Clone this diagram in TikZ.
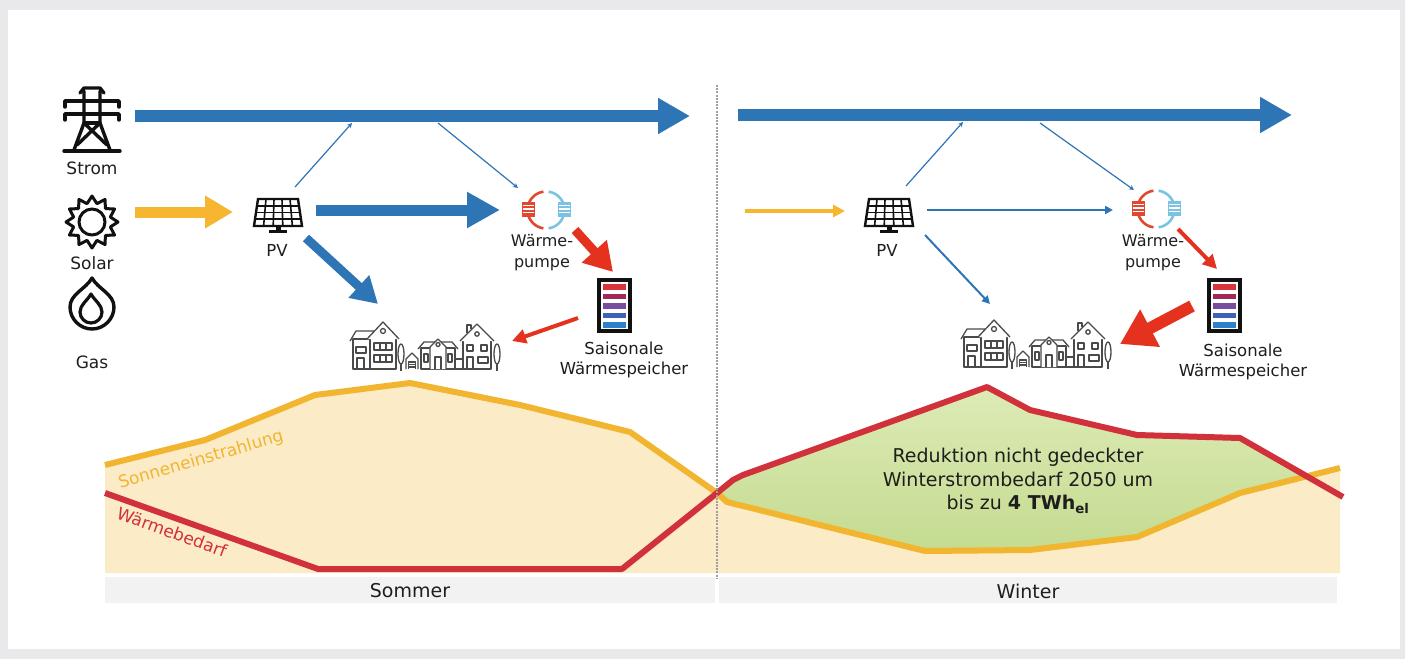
\documentclass[tikz,border=0pt]{standalone}
\usepackage{fontspec}
\setmainfont{DejaVu Sans}
\usetikzlibrary{arrows.meta}
\definecolor{pagebg}{HTML}{E9E9EB}
\definecolor{flowblue}{HTML}{2E75B6}
\definecolor{sunyellow}{HTML}{F6B630}
\definecolor{heatred}{HTML}{E5321E}
\definecolor{curvered}{HTML}{D0313A}
\definecolor{curveyellow}{HTML}{F2B52F}
\definecolor{beige}{HTML}{FBEBC6}
\definecolor{greenlight}{HTML}{DDEBB6}
\definecolor{greendark}{HTML}{C4DB90}
\definecolor{bargrey}{HTML}{F2F2F2}
\definecolor{txt}{HTML}{1E1E1E}
\definecolor{icon}{HTML}{111111}
\definecolor{houseline}{HTML}{4A4A4A}
\definecolor{hpred}{HTML}{E0482F}
\definecolor{hpblue}{HTML}{7CC3E3}
\definecolor{stA}{HTML}{D8343C}
\definecolor{stB}{HTML}{A32858}
\definecolor{stC}{HTML}{7A4C9C}
\definecolor{stD}{HTML}{3E62B8}
\definecolor{stE}{HTML}{2F80CC}

\tikzset{
  lbl/.style={text=txt, inner sep=0pt, font=\fontsize{#1}{20}\selectfont},
  lbl/.default=17,
  flow/.style args={#1/#2/#3/#4}{draw=#1, line width=#2, -{Triangle[length=#3, width=#4]}},
  thinflow/.style={draw=flowblue, line width=1.2pt, -{Stealth[length=5pt, width=5pt]}},
  pics/pvpanel/.style={code={
    \fill[white] (-20,-13) -- (20,-13) -- (24,14) -- (-24,14) -- cycle;
    \foreach \i in {1,...,4} {
      \draw[icon, line width=1.6pt] ({-20+8*\i},-13) -- ({-24+9.6*\i},14);
    }
    \foreach \t in {0.25,0.5,0.75} {
      \draw[icon, line width=1.6pt] ({-20-4*\t},{-13+27*\t}) -- ({20+4*\t},{-13+27*\t});
    }
    \draw[icon, line width=2.4pt, line join=miter] (-20,-13) -- (20,-13) -- (24,14) -- (-24,14) -- cycle;
    \fill[icon] (-2.5,14) rectangle (2.5,18.5);
    \draw[icon, line width=2.5pt] (-9,19.5) -- (9,19.5);
  }},
  pics/heatpump/.style={code={
    \draw[hpred, line width=2.6pt] (98:18.5) arc[start angle=98, end angle=262, radius=18.5];
    \draw[hpblue, line width=2.6pt] (-82:18.5) arc[start angle=-82, end angle=82, radius=18.5];
    \fill[white] (-24,-8) rectangle (-12,7);
    \foreach \yy in {-8,-4.2,-0.4,3.4} {
      \fill[hpred] (-24,\yy) rectangle (-12,\yy+2.6);
    }
    \fill[white] (12,-8) rectangle (24,7);
    \foreach \yy in {-8,-4.2,-0.4,3.4} {
      \fill[hpblue] (12,\yy) rectangle (24,\yy+2.6);
    }
    \draw[hpred, line width=0.8pt] (-24,-8) rectangle (-12,6);
    \draw[hpblue, line width=0.8pt] (12,-8) rectangle (24,6);
  }},
  pics/storage/.style={code={
    \draw[icon, line width=4pt, fill=white] (-15.5,-25.5) rectangle (15.5,25.5);
    \fill[stA] (-11.5,-21.5) rectangle (11.5,-16);
    \fill[stB] (-11.5,-12) rectangle (11.5,-6.5);
    \fill[stC] (-11.5,-2.5) rectangle (11.5,3);
    \fill[stD] (-11.5,7) rectangle (11.5,12.5);
    \fill[stE] (-11.5,16.5) rectangle (11.5,22);
  }},
  pics/houses/.style={code={
    \begin{scope}[draw=houseline, line width=1.3pt, line join=round]
      % tall house on the left
      \draw[fill=white] (3,0) rectangle (20,-30);
      \draw (0,-28) -- (6,-38) -- (24,-38);
      \draw[fill=white] (20,0) rectangle (46,-32);
      \draw[fill=white] (17,-30) -- (33,-47) -- (49,-30);
      \draw (33,-38) circle (2.5);
      \draw (6,-22) rectangle (16,-16);
      \draw (24,-26) rectangle (42,-19);
      \draw (30,-26) -- (30,-19) (36,-26) -- (36,-19);
      \draw (24,-14) rectangle (42,-7);
      \draw (30,-14) -- (30,-7) (36,-14) -- (36,-7);
      \draw (7,0) -- (7,-11) -- (14,-11) -- (14,0);
      % tree
      \draw (51,-15) ellipse (3 and 10);
      \draw (51,-5) -- (51,2);
      % garage
      \draw[fill=white] (56,0) -- (56,-10) -- (62,-16) -- (68,-10) -- (68,0);
      \draw (58.5,0) -- (58.5,-7) -- (65.5,-7) -- (65.5,0);
      \draw (58.5,-4.5) -- (65.5,-4.5) (58.5,-2) -- (65.5,-2);
      % bungalow in the middle
      \draw[fill=white] (71,0) rectangle (105,-21);
      \draw (68,-20) -- (74,-27) -- (102,-27) -- (108,-20);
      \draw[fill=white] (80,0) -- (80,-22) -- (88,-30) -- (96,-22) -- (96,0);
      \draw (88,-24.5) circle (2);
      \draw (85,0) -- (85,-12) -- (91,-12) -- (91,0);
      \draw (74,-15) rectangle (78,-7) (98,-15) rectangle (102,-7);
      \draw (105,-10) rectangle (113,0);
      % house on the right
      \draw[fill=white] (113,0) rectangle (141,-30);
      \draw (117,-36) -- (117,-44) -- (121,-44) -- (121,-40);
      \draw[fill=white] (110,-28) -- (127,-45) -- (144,-28);
      \draw (127,-35) circle (2.2);
      \draw (117,-24) rectangle (123,-18) (131,-24) rectangle (137,-18);
      \draw (117,0) -- (117,-12) -- (123,-12) -- (123,0);
      \draw (128,-12) rectangle (138,-6);
      % tree
      \draw (147,-15) ellipse (3 and 10);
      \draw (147,-5) -- (147,2);
    \end{scope}
  }},
}

\begin{document}
\begin{tikzpicture}[x=1pt, y=-1pt]
\useasboundingbox (0,0) rectangle (1405,659);
\fill[pagebg] (0,0) rectangle (1405,659);
\fill[white] (8,10) rectangle (1400,649);

% ---------- chart ----------
\fill[beige] (105,573) -- (105,465) -- (205,440) -- (315,395) -- (410,383) -- (520,405)
  -- (630,432) -- (717,493) -- (727,502) -- (925,551) -- (1030,550) -- (1137,537)
  -- (1240,493) -- (1340,468) -- (1340,573) -- cycle;
\shade[top color=greenlight, bottom color=greendark]
  (717,493) -- (733,480) -- (743,475) -- (987,387) -- (1030,410) -- (1137,435)
  -- (1240,438) -- (1305,477) -- (1240,493) -- (1137,537) -- (1030,550) -- (925,551)
  -- (727,502) -- cycle;
\draw[curveyellow, line width=6pt, line join=round] (105,465) -- (205,440) -- (315,395)
  -- (410,383) -- (520,405) -- (630,432) -- (717,493) -- (727,502) -- (925,551)
  -- (1030,550) -- (1137,537) -- (1240,493) -- (1340,468);
\draw[curvered, line width=6pt, line join=round] (105,493) -- (318,569) -- (622,569)
  -- (717,493) -- (733,480) -- (743,475) -- (987,387) -- (1030,410) -- (1137,435)
  -- (1240,438) -- (1343,497);
\node[lbl=17, text=curveyellow, rotate=16] (sunlbl) at (201,460) {Sonneneinstrahlung};
\node[lbl=17, text=curvered, rotate=-20] (heatlbl) at (172,532) {Wärmebedarf};
\node[lbl=19, align=center, font=\fontsize{19}{23.5}\selectfont] (redlbl) at (1018,481)
  {Reduktion nicht gedeckter\\Winterstrombedarf 2050 um\\bis zu \textbf{4 TWh\textsubscript{el}}};

% season bar and divider
\fill[bargrey] (105,577) rectangle (715,603);
\fill[bargrey] (719,577) rectangle (1337,603);
\node[lbl=19] (sommer) at (410,591) {Sommer};
\node[lbl=19] (winter) at (1028,591) {Winter};
\draw[gray!75, line width=1.3pt, dash pattern=on 2pt off 1.2pt] (717,85) -- (717,578);

% ---------- sources ----------
\begin{scope}[icon, line width=3.4pt, line join=round, line cap=round]
  \draw (80,93) -- (84,88) -- (100,88) -- (104,93);
  \draw (65,107) -- (65,101) -- (119,101) -- (119,107);
  \draw (65,120) -- (65,114) -- (119,114) -- (119,120);
  \draw (84,91) -- (84,123) -- (74,150);
  \draw (100,91) -- (100,123) -- (110,150);
  \draw (84,123) -- (100,123);
  \draw (84,123) -- (107,145);
  \draw (100,123) -- (77,145);
  \draw (64,151) -- (120,151);
\end{scope}
\node[lbl] (strom) at (92,168) {Strom};
\draw[icon, line width=3pt] (92,222) circle (13);
\draw[icon, line width=3pt, line join=round]
  plot[samples at={0,15,...,345}, variable=\t]
  ({92+(22.5+3.5*cos(12*\t))*cos(\t)}, {222+(22.5+3.5*cos(12*\t))*sin(\t)}) -- cycle;
\node[lbl] (solar) at (92,263) {Solar};
\draw[icon, line width=3.4pt, line join=round]
  (92,278) .. controls (98,289) and (114,294) .. (114,307)
  .. controls (114,319) and (104,329) .. (92,329)
  .. controls (80,329) and (70,319) .. (70,307)
  .. controls (70,294) and (86,289) .. (92,278) -- cycle;
\draw[icon, line width=3.2pt, line join=round]
  (91,294) .. controls (95,301) and (102,305) .. (102,312)
  .. controls (102,318) and (97,323) .. (91,323)
  .. controls (85,323) and (80,318) .. (80,312)
  .. controls (80,305) and (87,301) .. (91,294) -- cycle;
\node[lbl] (gas) at (92,362) {Gas};

% ---------- summer ----------
\pic (pvS) at (278,212) {pvpanel};
\node[lbl=16.5] (pvSlbl) at (277,250) {PV};
\pic (hpS) at (546,210) {heatpump};
\node[lbl=16, align=center, font=\fontsize{16}{21}\selectfont] (hpSlbl) at (542,252.5) {Wärme-\\pumpe};
\pic (stS) at (614.5,305.5) {storage};
\node[lbl=16.5, align=center, font=\fontsize{16.5}{20}\selectfont] (stSlbl) at (624,360) {Saisonale\\Wärmespeicher};
\pic (housesS) at (350,369) {houses};

\coordinate (gridS-a) at (135,116);  \coordinate (gridS-b) at (690,116);
\coordinate (sunS-a) at (135,212);   \coordinate (sunS-b) at (233,212);
\coordinate (pvS-up) at (295,187);   \coordinate (gridS-in) at (352,123);
\coordinate (gridS-out) at (438,123); \coordinate (hpS-in) at (518,188);
\coordinate (pvS-r) at (316,210);    \coordinate (hpS-l) at (500,210);
\coordinate (pvS-d) at (306,238);    \coordinate (housesS-in) at (378,304);
\coordinate (hpS-d) at (575,230);    \coordinate (stS-in) at (613,272);
\coordinate (stS-out) at (578,318);  \coordinate (housesS-r) at (512,341);

\draw[flow={flowblue/12pt/32pt/34pt}] (gridS-a) -- (gridS-b);
\draw[flow={sunyellow/11pt/28pt/31pt}] (sunS-a) -- (sunS-b);
\draw[thinflow] (pvS-up) -- (gridS-in);
\draw[thinflow] (gridS-out) -- (hpS-in);
\draw[flow={flowblue/11pt/33pt/34pt}] (pvS-r) -- (hpS-l);
\draw[flow={flowblue/9pt/26pt/29pt}] (pvS-d) -- (housesS-in);
\draw[flow={heatred/9pt/28pt/32pt}] (hpS-d) -- (stS-in);
\draw[flow={heatred/4pt/14pt/14pt}] (stS-out) -- (housesS-r);

% ---------- winter ----------
\pic (pvW) at (889,212) {pvpanel};
\node[lbl=16.5] (pvWlbl) at (887,250) {PV};
\pic (hpW) at (1156,209) {heatpump};
\node[lbl=16, align=center, font=\fontsize{16}{21}\selectfont] (hpWlbl) at (1153,253) {Wärme-\\pumpe};
\pic (stW) at (1224.5,305.5) {storage};
\node[lbl=16.5, align=center, font=\fontsize{16.5}{20}\selectfont] (stWlbl) at (1243,362) {Saisonale\\Wärmespeicher};
\pic (housesW) at (961,367) {houses};

\coordinate (gridW-a) at (738,115);  \coordinate (gridW-b) at (1292,115);
\coordinate (sunW-a) at (745,211);   \coordinate (sunW-b) at (845,211);
\coordinate (pvW-up) at (906,186);   \coordinate (gridW-in) at (963,122);
\coordinate (gridW-out) at (1040,123); \coordinate (hpW-in) at (1134,190);
\coordinate (pvW-r) at (927,210);    \coordinate (hpW-l) at (1113,210);
\coordinate (pvW-d) at (925,235);    \coordinate (housesW-in) at (990,304);
\coordinate (hpW-d) at (1178,229);   \coordinate (stW-in) at (1217,269);
\coordinate (stW-out) at (1192,306); \coordinate (housesW-r) at (1120,344);

\draw[flow={flowblue/12pt/32pt/34pt}] (gridW-a) -- (gridW-b);
\draw[flow={sunyellow/3.5pt/12pt/12pt}] (sunW-a) -- (sunW-b);
\draw[thinflow] (pvW-up) -- (gridW-in);
\draw[thinflow] (gridW-out) -- (hpW-in);
\draw[flow={flowblue/2pt/8pt/8pt}] (pvW-r) -- (hpW-l);
\draw[flow={flowblue/2pt/8pt/8pt}] (pvW-d) -- (housesW-in);
\draw[flow={heatred/4pt/14pt/14pt}] (hpW-d) -- (stW-in);
\draw[flow={heatred/12pt/34pt/40pt}] (stW-out) -- (housesW-r);
\end{tikzpicture}
\end{document}
